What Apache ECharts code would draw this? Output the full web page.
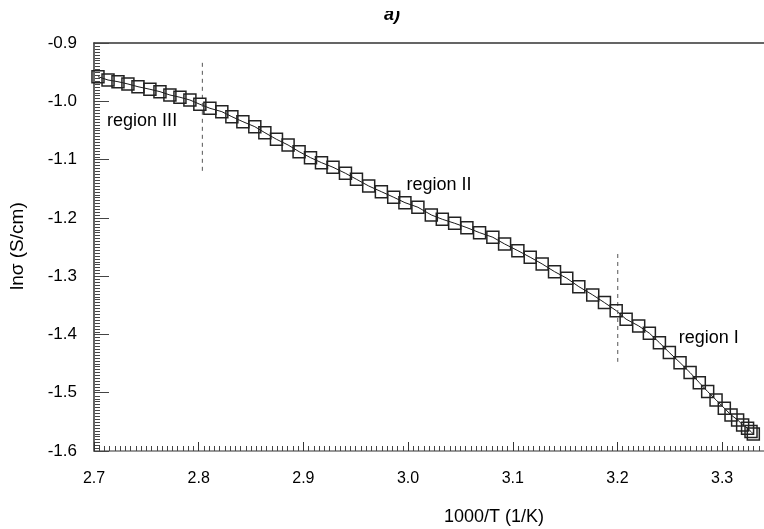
<!DOCTYPE html>
<html>
<head>
<meta charset="utf-8">
<script src="https://cdn.jsdelivr.net/npm/echarts@6/dist/echarts.min.js"></script>
<style>html,body{margin:0;padding:0;background:#fff}#c{width:764px;height:529px}</style>
</head>
<body>
<div id="c"></div>
<script>
// 1000/T values (1/K)
const xValues = [2.7038,2.7134,2.7229,2.7324,2.7420,2.7534,2.7630,2.7725,2.7821,2.7916,
  2.8011,2.8107,2.8221,2.8317,2.8422,2.8536,2.8632,2.8743,2.8854,2.8959,
  2.9068,2.9173,2.9283,2.9402,2.9507,2.9624,2.9745,2.9863,2.9970,3.0094,
  3.0222,3.0327,3.0445,3.0562,3.0683,3.0810,3.0922,3.1049,3.1167,3.1281,
  3.1399,3.1516,3.1631,3.1764,3.1876,3.1988,3.2083,3.2203,3.2305,3.2401,
  3.2496,3.2598,3.2694,3.2782,3.2862,3.2942,3.3021,3.3085,3.3148,3.3196,
  3.3243,3.3276,3.3298];
// ln sigma values (S/cm)
const lnSigma = [-0.9578,-0.9635,-0.9664,-0.9703,-0.9750,-0.9794,-0.9835,-0.9892,-0.9931,-0.9978,
  -1.0051,-1.0120,-1.0178,-1.0264,-1.0350,-1.0436,-1.0539,-1.0652,-1.0750,-1.0864,
  -1.0967,-1.1053,-1.1132,-1.1235,-1.1338,-1.1453,-1.1551,-1.1647,-1.1739,-1.1818,
  -1.1950,-1.2024,-1.2093,-1.2168,-1.2254,-1.2333,-1.2448,-1.2563,-1.2676,-1.2791,
  -1.2923,-1.3036,-1.3180,-1.3322,-1.3454,-1.3592,-1.3739,-1.3854,-1.3979,-1.4141,
  -1.4312,-1.4484,-1.4655,-1.4827,-1.4981,-1.5123,-1.5266,-1.5381,-1.5467,-1.5552,
  -1.5609,-1.5667,-1.5707];
// region boundaries (dashed lines): [x, yTop, yBottom]
const boundary1 = [2.8035, -0.934, -1.121];
const boundary2 = [3.2003, -1.262, -1.447];
// region labels: [text, x, y]
const regionLabels = [["region III", 2.7125, -1.034], ["region II", 2.9985, -1.1436], ["region I", 3.2585, -1.406]];

const font = '"Liberation Sans", Arial, sans-serif';
const chart = echarts.init(document.getElementById('c'), null, {renderer: 'canvas'});
const data = xValues.map((x, i) => [x, lnSigma[i]]);

const option = {
  animation: false,
  backgroundColor: '#fff',
  grid: {left: 94, top: 43, right: 0, bottom: 78, containLabel: false},
  xAxis: [{
    type: 'value', min: 2.7, max: 3.34, interval: 0.1,
    axisLine: {show: true, onZero: false, lineStyle: {color: '#777', width: 1.5}},
    axisTick: {show: true, inside: true, length: 9, lineStyle: {color: '#333', width: 1}},
    minorTick: {show: true, splitNumber: 20, length: 5, lineStyle: {color: '#444', width: 1}},
    splitLine: {show: false},
    axisLabel: {
      color: '#000', fontFamily: font, fontSize: 16, margin: 20, showMaxLabel: false,
      formatter: v => (Math.abs(v * 10 - Math.round(v * 10)) < 1e-6 ? v.toFixed(1) : '')
    }
  }, {
    type: 'value', position: 'top', min: 2.7, max: 3.34,
    axisLine: {show: true, lineStyle: {color: '#333', width: 1.5}},
    axisTick: {show: false}, axisLabel: {show: false}, splitLine: {show: false}
  }],
  yAxis: {
    type: 'value', position: 'left', min: -1.6, max: -0.9, interval: 0.1,
    axisLine: {show: true, onZero: false, lineStyle: {color: '#333', width: 1.5}},
    axisTick: {show: true, inside: true, length: 15, lineStyle: {color: '#444', width: 1}},
    splitLine: {show: false},
    axisLabel: {color: '#000', fontFamily: font, fontSize: 17, margin: 17, formatter: v => v.toFixed(1)}
  },
  series: [{
    type: 'line',
    data: data,
    symbol: 'rect',
    symbolSize: 12,
    showAllSymbol: true,
    itemStyle: {color: 'rgba(255,255,255,0)', borderColor: '#222', borderWidth: 1.5},
    lineStyle: {color: '#000', width: 0.9},
    z: 3
  }, {
    type: 'line', symbol: 'none',
    lineStyle: {color: '#555', type: [4, 4], width: 1},
    data: [[boundary1[0], boundary1[1]], [boundary1[0], boundary1[2]]]
  }, {
    type: 'line', symbol: 'none',
    lineStyle: {color: '#555', type: [4, 4], width: 1},
    data: [[boundary2[0], boundary2[1]], [boundary2[0], boundary2[2]]]
  }, {
    type: 'scatter', symbolSize: 0,
    itemStyle: {color: '#000', opacity: 1},
    data: regionLabels.map(r => ({value: [r[1], r[2]], name: r[0]})),
    label: {show: true, formatter: p => p.name, position: 'right', distance: 0,
      color: '#000', fontFamily: font, fontSize: 18}
  }],
  graphic: [
    {type: 'text', x: 444, y: 508,
      style: {text: '1000/T (1/K)', fontFamily: font, fontSize: 18, fill: '#000'}},
    {type: 'text', rotation: Math.PI / 2, x: 8, y: 290,
      style: {text: 'lnσ (S/cm)', fontFamily: font, fontSize: 19, fill: '#000'}},
    {type: 'text', x: 384, y: 6,
      style: {text: 'a)', fontFamily: font, fontSize: 18, fontStyle: 'italic', fontWeight: 'bold', fill: '#000'}},
    {type: 'rect', shape: {x: 370, y: 0, width: 50, height: 11}, style: {fill: '#fff'}, z: 100}
  ]
};
chart.setOption(option);

// minor ticks of the left axis: positions from the chart's own y scale
const minorTickLines = [];
for (let k = 1; k < 140; k++) {
  if (k % 20 === 0) continue;
  const p = chart.convertToPixel({xAxisIndex: 0, yAxisIndex: 0}, [2.7, -1.6 + k * 0.005]);
  const y = Math.round(p[1]) + 0.5;
  minorTickLines.push({type: 'line', z: 50, silent: true,
    shape: {x1: p[0] + 1, y1: y, x2: p[0] + 6, y2: y},
    style: {stroke: '#444', lineWidth: 1}});
}
chart.setOption({graphic: option.graphic.concat(minorTickLines)});
</script>
</body>
</html>
